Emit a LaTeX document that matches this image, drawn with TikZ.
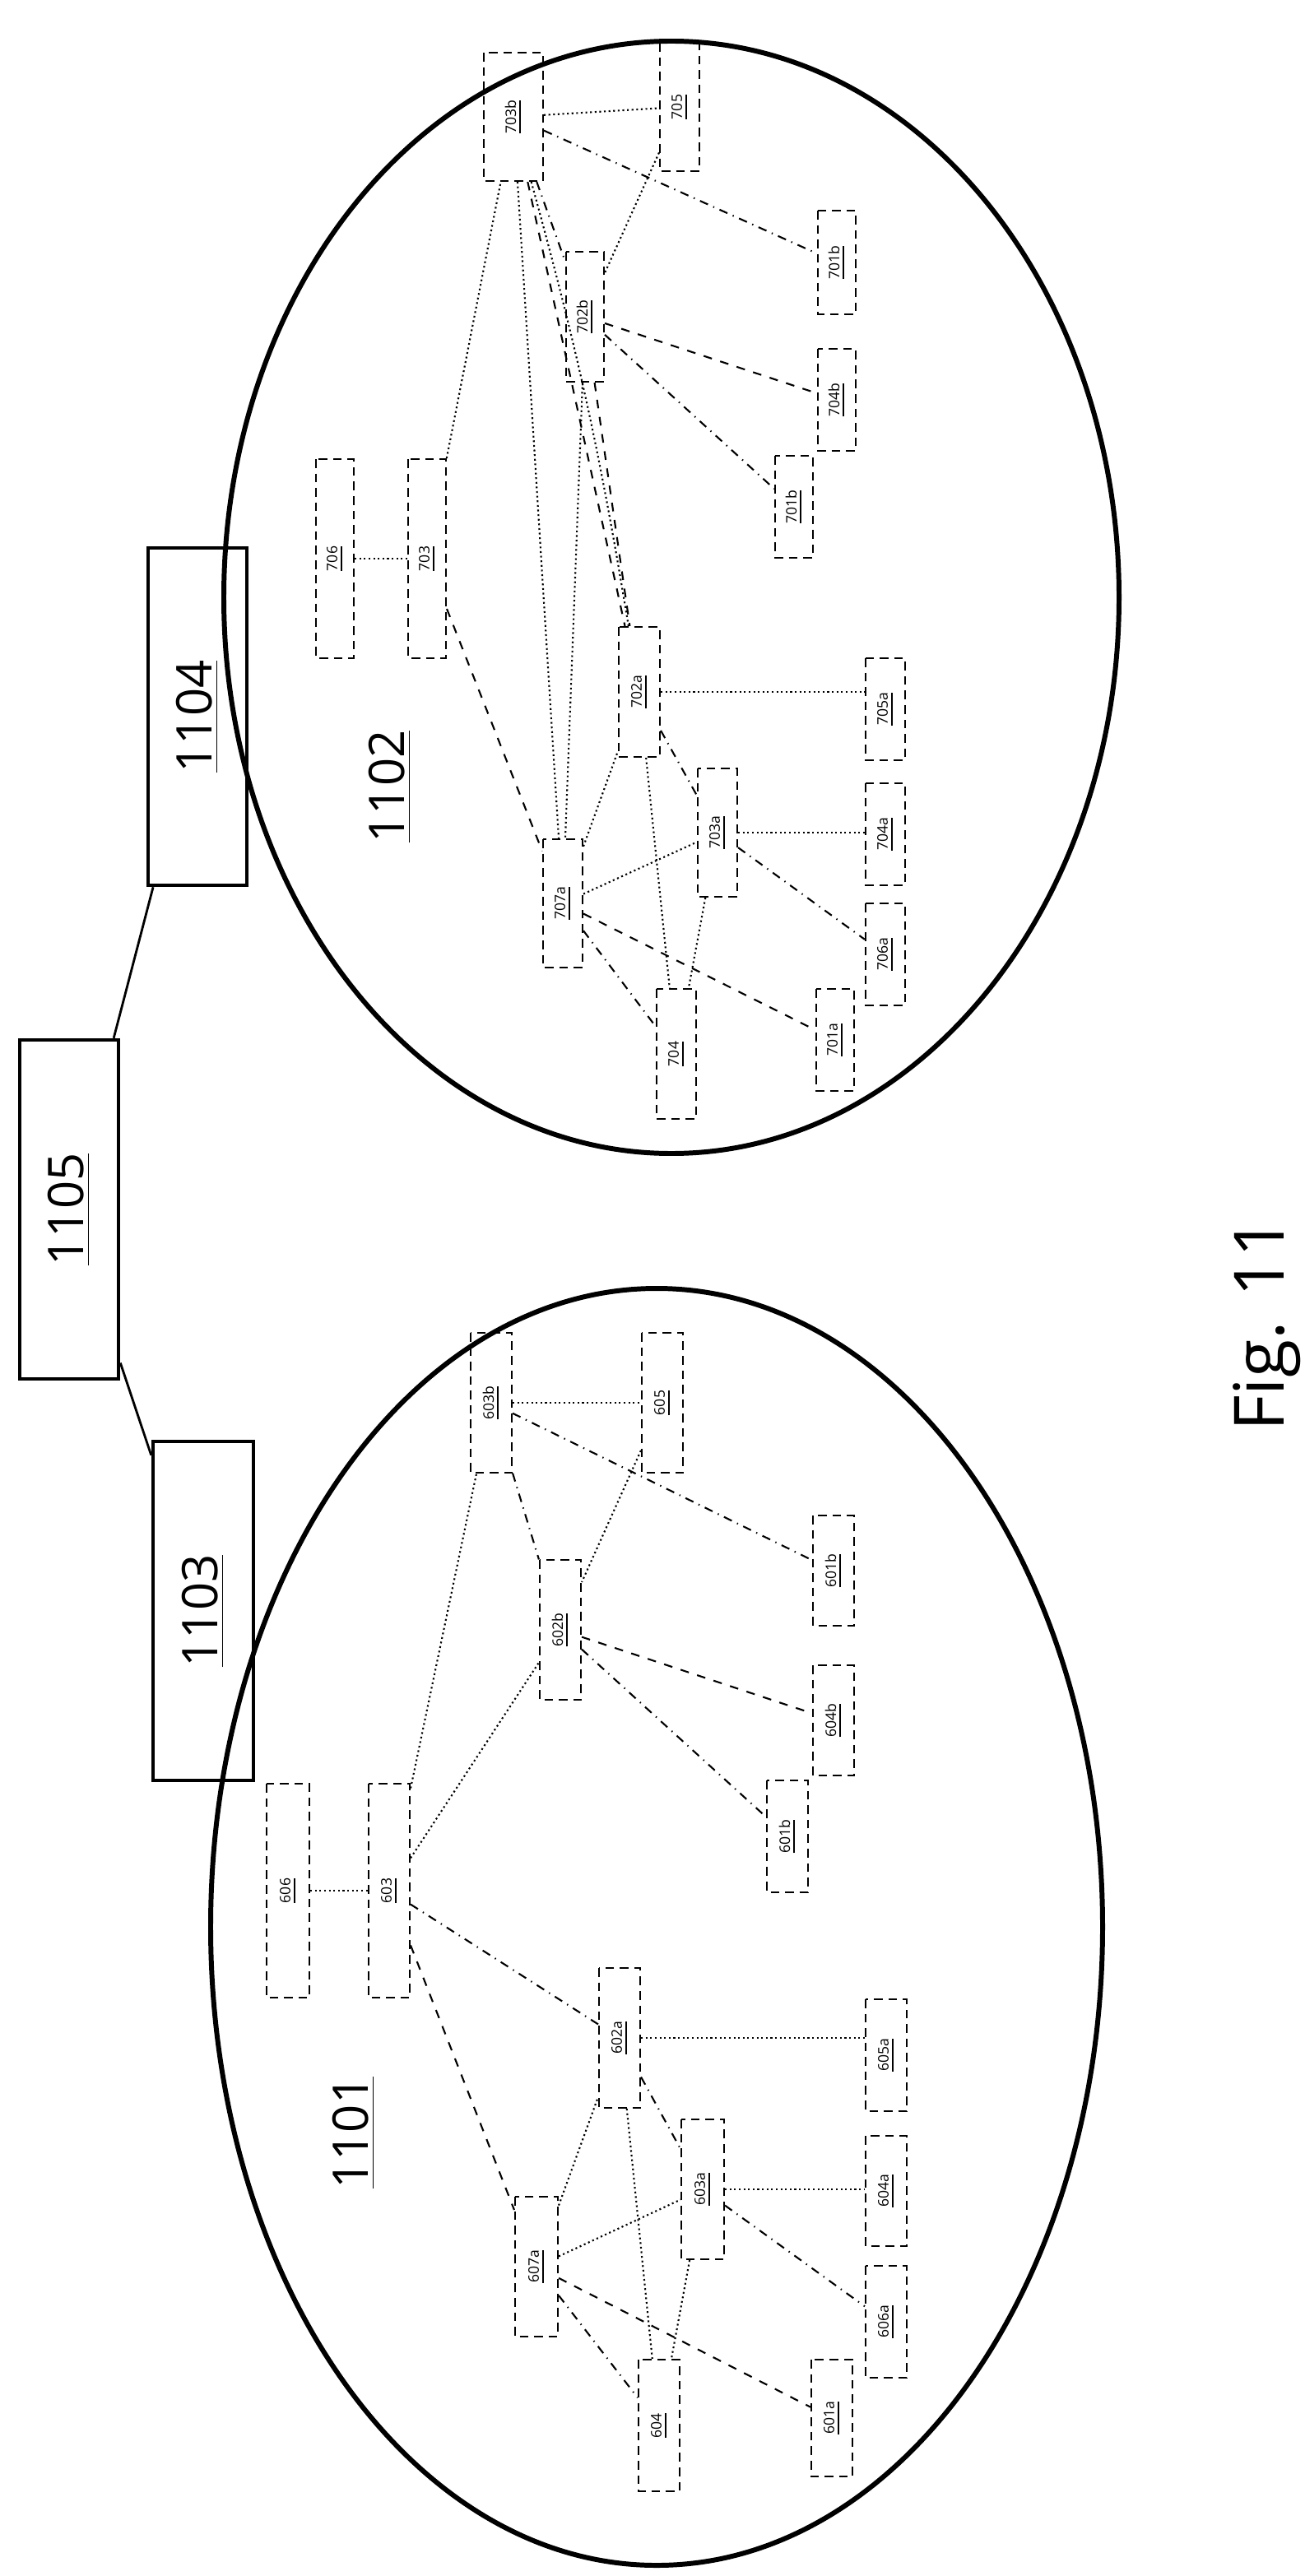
\documentclass[tikz,border=0pt]{standalone}
\usepackage{fontspec}
\setmainfont{Open Sans}
\usetikzlibrary{calc}
\tikzset{
  sbox/.style={draw, densely dashed, line width=0.6pt, rotate=90, inner sep=0pt, font=\fontsize{5}{6}\selectfont},
  bigbox/.style={draw, line width=1.3pt, rotate=90, inner sep=0pt, font=\fontsize{17}{20}\selectfont},
  cloud/.style={line width=1.7pt},
  ldot/.style={densely dotted, line width=0.6pt},
  ldash/.style={dashed, line width=0.6pt},
  ldd/.style={dash dot, line width=0.6pt},
}
% name, x1, y1, x2, y2, label  (page pixels / 2)
\newcommand{\smallbox}[6]{%
  \node[sbox, minimum width={(#5-#3)/50*1cm}, minimum height={(#4-#2)/50*1cm}]
    (#1) at ({(#2+#4)/2},{(#3+#5)/2}) {\underline{#6}};}
\newcommand{\bigbox}[6]{%
  \node[bigbox, minimum width={(#5-#3)/50*1cm}, minimum height={(#4-#2)/50*1cm}]
    (#1) at ({(#2+#4)/2},{(#3+#5)/2}) {\underline{#6}};}
\begin{document}
\begin{tikzpicture}[x=0.02cm, y=-0.02cm]
  \useasboundingbox (0,0) rectangle (793,1565.5);

  % the two groups
  \draw[cloud] (408,363) ellipse [x radius=272, y radius=338];
  \draw[cloud] (399,1171) ellipse [x radius=271, y radius=388];

  \bigbox{g1105}{12}{632}{72}{838}{1105}
  \bigbox{g1104}{90}{333}{150}{538}{1104}
  \bigbox{g1103}{93}{876}{154}{1082}{1103}
  \draw[line width=0.8pt] (g1105) -- (g1104);
  \draw[line width=0.8pt] (g1105) -- (g1103);

  \node[rotate=90, font=\fontsize{17}{20}\selectfont] (n1102) at (237,478) {\underline{1102}};
  \node[rotate=90, font=\fontsize{17}{20}\selectfont] (n1101) at (215,1296) {\underline{1101}};
  \node[rotate=90, font=\fontsize{24}{28}\selectfont] (fig) at (770,805) {Fig. 11};

  % group 1102
  \smallbox{b706}{192}{279}{215}{400}{706}
  \smallbox{b703}{248}{279}{271}{400}{703}
  \smallbox{b703b}{294}{32}{330}{110}{703b}
  \smallbox{b705}{401}{26}{425}{104}{705}
  \smallbox{b701b}{497}{128}{520}{191}{701b}
  \smallbox{b702b}{344}{153}{367}{232}{702b}
  \smallbox{b704b}{497}{212}{520}{274}{704b}
  \smallbox{b701c}{471}{277}{494}{339}{701b}
  \smallbox{b702a}{376}{381}{401}{460}{702a}
  \smallbox{b703a}{424}{467}{448}{545}{703a}
  \smallbox{b707a}{330}{510}{354}{588}{707a}
  \smallbox{b704}{399}{601}{423}{680}{704}
  \smallbox{b701a}{496}{601}{519}{663}{701a}
  \smallbox{b705a}{526}{400}{550}{462}{705a}
  \smallbox{b704a}{526}{476}{550}{538}{704a}
  \smallbox{b706a}{526}{549}{550}{611}{706a}

  \draw[ldot] (b706) -- (b703);
  \draw[ldot] (b703) -- (b703b);
  \draw[ldash] (b703) -- (b707a);
  \draw[ldot] (b703b) -- (b705);
  \draw[ldd] (b703b) -- (b701b);
  \draw[ldd] (b703b) -- (b702b);
  \draw[ldot] (b705) -- (b702b);
  \draw[ldash] (b702b) -- (b704b);
  \draw[ldd] (b702b) -- (b701c);
  \draw[ldot] (b703b) -- (b707a);
  \draw[ldash] (b703b) -- (b702a);
  \draw[ldot] (b703b) to[bend left=3] (b702a);
  \draw[ldot] (b702b) -- (b707a);
  \draw[ldash] (b702b) -- (b702a);
  \draw[ldot] (b702a.south) -- (b702a.south -| b705a.north);
  \draw[ldot] (b703a.south) -- (b703a.south -| b704a.north);
  \draw[ldd] (b703a) -- (b706a);
  \draw[ldot] (b707a) -- (b702a);
  \draw[ldot] (b707a) -- (b703a);
  \draw[ldd] (b702a) -- (b703a);
  \draw[ldot] (b702a) -- (b704);
  \draw[ldot] (b703a) -- (b704);
  \draw[ldd] (b707a) -- (b704);
  \draw[ldash] (b707a) -- (b701a);

  % group 1101
  \smallbox{b606}{162}{1084}{188}{1214}{606}
  \smallbox{b603}{224}{1084}{249}{1214}{603}
  \smallbox{b603b}{286}{810}{311}{895}{603b}
  \smallbox{b605}{390}{810}{415}{895}{605}
  \smallbox{b601b}{494}{921}{519}{988}{601b}
  \smallbox{b602b}{328}{948}{353}{1033}{602b}
  \smallbox{b604b}{494}{1012}{519}{1079}{604b}
  \smallbox{b601c}{466}{1082}{491}{1150}{601b}
  \smallbox{b602a}{364}{1196}{389}{1281}{602a}
  \smallbox{b603a}{414}{1288}{440}{1373}{603a}
  \smallbox{b607a}{313}{1335}{339}{1420}{607a}
  \smallbox{b604}{388}{1434}{413}{1514}{604}
  \smallbox{b601a}{493}{1434}{518}{1505}{601a}
  \smallbox{b605a}{526}{1215}{551}{1283}{605a}
  \smallbox{b604a}{526}{1298}{551}{1365}{604a}
  \smallbox{b606a}{526}{1377}{551}{1445}{606a}

  \draw[ldot] (b606) -- (b603);
  \draw[ldot] (b603) -- (b603b);
  \draw[ldot] (b603) -- (b602b);
  \draw[ldd] (b603) -- (b602a);
  \draw[ldash] (b603) -- (b607a);
  \draw[ldot] (b603b) -- (b605);
  \draw[ldd] (b603b) -- (b601b);
  \draw[ldd] (b603b) -- (b602b);
  \draw[ldot] (b605) -- (b602b);
  \draw[ldash] (b602b) -- (b604b);
  \draw[ldd] (b602b) -- (b601c);
  \draw[ldot] (b602a.south) -- (b602a.south -| b605a.north);
  \draw[ldot] (b603a.south) -- (b603a.south -| b604a.north);
  \draw[ldd] (b603a) -- (b606a);
  \draw[ldot] (b607a) -- (b602a);
  \draw[ldot] (b607a) -- (b603a);
  \draw[ldd] (b602a) -- (b603a);
  \draw[ldot] (b602a) -- (b604);
  \draw[ldot] (b603a) -- (b604);
  \draw[ldd] (b607a) -- (b604);
  \draw[ldash] (b607a) -- (b601a);
\end{tikzpicture}
\end{document}
